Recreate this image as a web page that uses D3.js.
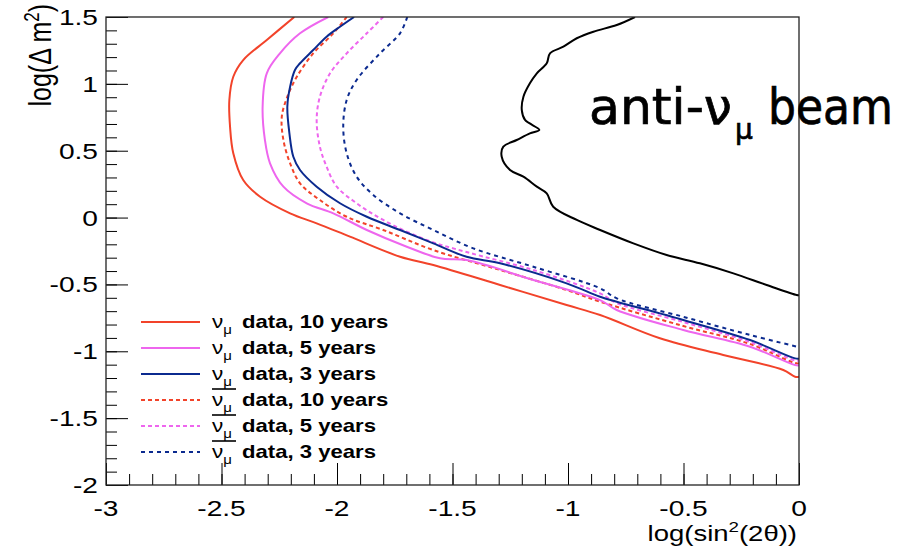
<!DOCTYPE html>
<html>
<head>
<meta charset="utf-8">
<script src="https://cdn.jsdelivr.net/npm/d3@7"></script>
<style>
  html, body { margin: 0; padding: 0; background: #fff; }
  svg { display: block; }
</style>
</head>
<body>
<svg id="chart" width="917" height="552"></svg>
<script>
// Sensitivity contours in the (log sin^2 2θ, log Δm^2) plane
const xDomain = [-3, 0];
const yDomain = [-2, 1.5];
const xTicks = [-3, -2.5, -2, -1.5, -1, -0.5, 0];
const yTicks = [-2, -1.5, -1, -0.5, 0, 0.5, 1, 1.5];

const numu10 = [[-2.185,1.5],[-2.304,1.328],[-2.406,1.178],[-2.449,1.053],[-2.466,0.879],[-2.463,0.68],[-2.449,0.481],[-2.406,0.281],[-2.333,0.156],[-2.203,0.032],[-2.088,-0.043],[-1.944,-0.143],[-1.727,-0.293],[-1.583,-0.355],[-1.294,-0.504],[-1.006,-0.654],[-0.861,-0.729],[-0.602,-0.903],[-0.328,-1.028],[-0.068,-1.14],[-0.017,-1.19],[0,-1.19]];
const numu5 = [[-2.038,1.5],[-2.16,1.378],[-2.247,1.228],[-2.304,1.079],[-2.322,0.829],[-2.312,0.58],[-2.29,0.406],[-2.232,0.231],[-2.131,0.107],[-2.016,0.032],[-1.871,-0.093],[-1.698,-0.218],[-1.554,-0.305],[-1.439,-0.318],[-1.15,-0.467],[-0.861,-0.617],[-0.789,-0.691],[-0.501,-0.841],[-0.212,-0.966],[-0.017,-1.103],[0,-1.105]];
const numu3 = [[-1.926,1.5],[-1.987,1.427],[-2.045,1.353],[-2.103,1.253],[-2.16,1.154],[-2.182,1.104],[-2.203,0.979],[-2.215,0.829],[-2.206,0.63],[-2.189,0.455],[-2.16,0.356],[-2.088,0.231],[-1.987,0.107],[-1.871,0.006],[-1.727,-0.093],[-1.583,-0.193],[-1.439,-0.293],[-1.294,-0.342],[-1.006,-0.492],[-0.861,-0.592],[-0.789,-0.629],[-0.501,-0.766],[-0.212,-0.916],[-0.017,-1.053],[0,-1.055]];
const anumu10 = [[-1.958,1.5],[-2.016,1.378],[-2.103,1.228],[-2.174,1.053],[-2.215,0.904],[-2.239,0.754],[-2.232,0.58],[-2.203,0.406],[-2.16,0.256],[-2.074,0.131],[-1.958,0.006],[-1.8,-0.093],[-1.583,-0.243],[-1.294,-0.392],[-1.006,-0.542],[-0.861,-0.629],[-0.501,-0.811],[-0.212,-0.946],[-0.017,-1.088],[0,-1.09]];
const anumu5 = [[-1.8,1.5],[-1.871,1.378],[-1.958,1.228],[-2.03,1.079],[-2.074,0.904],[-2.088,0.73],[-2.074,0.53],[-2.045,0.38],[-2.001,0.231],[-1.915,0.107],[-1.8,-0.018],[-1.612,-0.168],[-1.439,-0.258],[-1.15,-0.392],[-0.861,-0.567],[-0.789,-0.639],[-0.501,-0.781],[-0.212,-0.931],[-0.017,-1.069],[0,-1.07]];
const anumu3 = [[-1.696,1.5],[-1.727,1.378],[-1.814,1.228],[-1.915,1.029],[-1.958,0.879],[-1.973,0.68],[-1.958,0.481],[-1.915,0.306],[-1.843,0.169],[-1.727,0.032],[-1.583,-0.093],[-1.41,-0.23],[-1.15,-0.368],[-0.861,-0.529],[-0.789,-0.604],[-0.501,-0.742],[-0.212,-0.878],[-0.004,-0.968],[0,-0.97]];
const beamContour = [[-0.71,1.5],[-0.789,1.44],[-0.89,1.39],[-0.962,1.341],[-1.02,1.278],[-1.078,1.228],[-1.092,1.154],[-1.135,1.079],[-1.165,1.004],[-1.193,0.904],[-1.2,0.804],[-1.186,0.73],[-1.124,0.655],[-1.165,0.63],[-1.222,0.58],[-1.28,0.53],[-1.287,0.455],[-1.251,0.356],[-1.193,0.306],[-1.135,0.231],[-1.092,0.181],[-1.064,0.081],[-0.962,-0.018],[-0.861,-0.093],[-0.717,-0.193],[-0.573,-0.28],[-0.429,-0.342],[-0.284,-0.417],[-0.14,-0.504],[-0.01,-0.579],[0,-0.58]];

const legendLabels = ["data, 10 years", "data, 5 years", "data, 3 years", "data, 10 years", "data, 5 years", "data, 3 years"];
const legendAnti = [false, false, false, true, true, true];

const seriesList = [
  { data: numu10, color: "#f2432a", dash: null },
  { data: numu5, color: "#ee66ee", dash: null },
  { data: numu3, color: "#0b2a8f", dash: null },
  { data: anumu10, color: "#f2432a", dash: "4,3" },
  { data: anumu5, color: "#ee66ee", dash: "4,3" },
  { data: anumu3, color: "#0b2a8f", dash: "4,4" }
];

const SANS = "'Liberation Sans', Arial, Helvetica, sans-serif";
const SX = 1.25; // horizontal stretch applied to the ROOT-style labels

const svg = d3.select("#chart");
const L = 106, R = 799, T = 17, B = 485;

const x = d3.scaleLinear().domain(xDomain).range([L, R]);
const y = d3.scaleLinear().domain(yDomain).range([B, T]);

svg.append("defs").append("clipPath").attr("id", "plotClip")
  .append("rect").attr("x", L).attr("y", T).attr("width", R - L).attr("height", B - T);

const line = d3.line().x(d => x(d[0])).y(d => y(d[1])).curve(d3.curveCatmullRom.alpha(0.5));

const curves = svg.append("g").attr("clip-path", "url(#plotClip)");
curves.append("path").datum(beamContour)
  .attr("d", line).attr("fill", "none").attr("stroke", "#000").attr("stroke-width", 2);
// dashed series first, solid on top
[3, 4, 5, 0, 1, 2].forEach(i => {
  const s = seriesList[i];
  curves.append("path").datum(s.data)
    .attr("d", line).attr("fill", "none")
    .attr("stroke", s.color).attr("stroke-width", 2)
    .attr("stroke-dasharray", s.dash);
});

// axes: major and minor ticks pointing into the frame
const minorX = d3.range(-3, 0.0001, 0.1);
const minorY = d3.range(-2, 1.5001, 0.1);
const axes = [
  svg.append("g").attr("transform", `translate(0,${B})`).call(d3.axisTop(x).tickValues(xTicks).tickSize(22).tickFormat("")),
  svg.append("g").attr("transform", `translate(0,${B})`).call(d3.axisTop(x).tickValues(minorX).tickSize(11).tickFormat("")),
  svg.append("g").attr("transform", `translate(${L},0)`).call(d3.axisRight(y).tickValues(yTicks).tickSize(22).tickFormat("")),
  svg.append("g").attr("transform", `translate(${L},0)`).call(d3.axisRight(y).tickValues(minorY).tickSize(11).tickFormat(""))
];
axes.forEach(g => {
  g.select(".domain").remove();
  g.selectAll("line").attr("stroke", "#000").attr("stroke-width", 1);
});

// frame
svg.append("rect").attr("x", L).attr("y", T).attr("width", R - L).attr("height", B - T)
  .attr("fill", "none").attr("stroke", "#222").attr("stroke-width", 1.3);

function label(px, py, anchor, size, extra) {
  return svg.append("text")
    .attr("transform", `translate(${px},${py}) scale(${SX},1)` + (extra || ""))
    .attr("text-anchor", anchor)
    .style("font-family", SANS)
    .style("font-size", size + "px");
}

// tick labels
xTicks.forEach(d => label(x(d), 516, "middle", 22.5).text(String(d)));
yTicks.forEach(d => label(98, y(d) + 8, "end", 22.5).text(String(d)));

// axis titles
const xt = label(797, 541, "end", 22);
xt.append("tspan").text("log(sin");
xt.append("tspan").attr("dy", -9).style("font-size", "15px").text("2");
xt.append("tspan").attr("dy", 9).text("(2θ))");

const yt = label(51, 4, "end", 25, " rotate(-90)");
yt.append("tspan").text("log(Δ m");
yt.append("tspan").attr("dy", -10).style("font-size", "17px").text("2");
yt.append("tspan").attr("dy", 10).text(")");

// beam label
const BEAM_FONT = "'DejaVu Sans', sans-serif";
function beamText(px, py, size, str, len) {
  const t = svg.append("text").attr("x", px).attr("y", py)
    .style("font-family", BEAM_FONT).style("font-size", size + "px")
    .attr("fill", "#000").attr("stroke", "#000").attr("stroke-width", 0.7)
    .text(str);
  if (len) t.attr("textLength", len).attr("lengthAdjust", "spacingAndGlyphs");
  return t;
}
beamText(589, 124, 49, "anti-ν", 143);
beamText(735, 139, 28, "μ");
beamText(768, 124, 49, "beam", 125);

// legend
const rowY = d3.scalePoint().domain(d3.range(6)).range([322, 452]);
seriesList.forEach((s, i) => {
  const yy = rowY(i);
  svg.append("line").attr("x1", 141).attr("x2", 200).attr("y1", yy).attr("y2", yy)
    .attr("stroke", s.color).attr("stroke-width", 2).attr("stroke-dasharray", s.dash);
  const nu = label(212, yy + 5.5, "start", 18);
  nu.append("tspan").text("ν");
  nu.append("tspan").attr("dy", 6).style("font-size", "12px").text("μ");
  label(242, yy + 5.5, "start", 17.7).style("font-weight", "bold").text(legendLabels[i]);
  if (legendAnti[i]) {
    svg.append("line").attr("x1", 212).attr("x2", 236).attr("y1", yy - 11).attr("y2", yy - 11)
      .attr("stroke", "#000").attr("stroke-width", 1.6);
  }
});
</script>
</body>
</html>
